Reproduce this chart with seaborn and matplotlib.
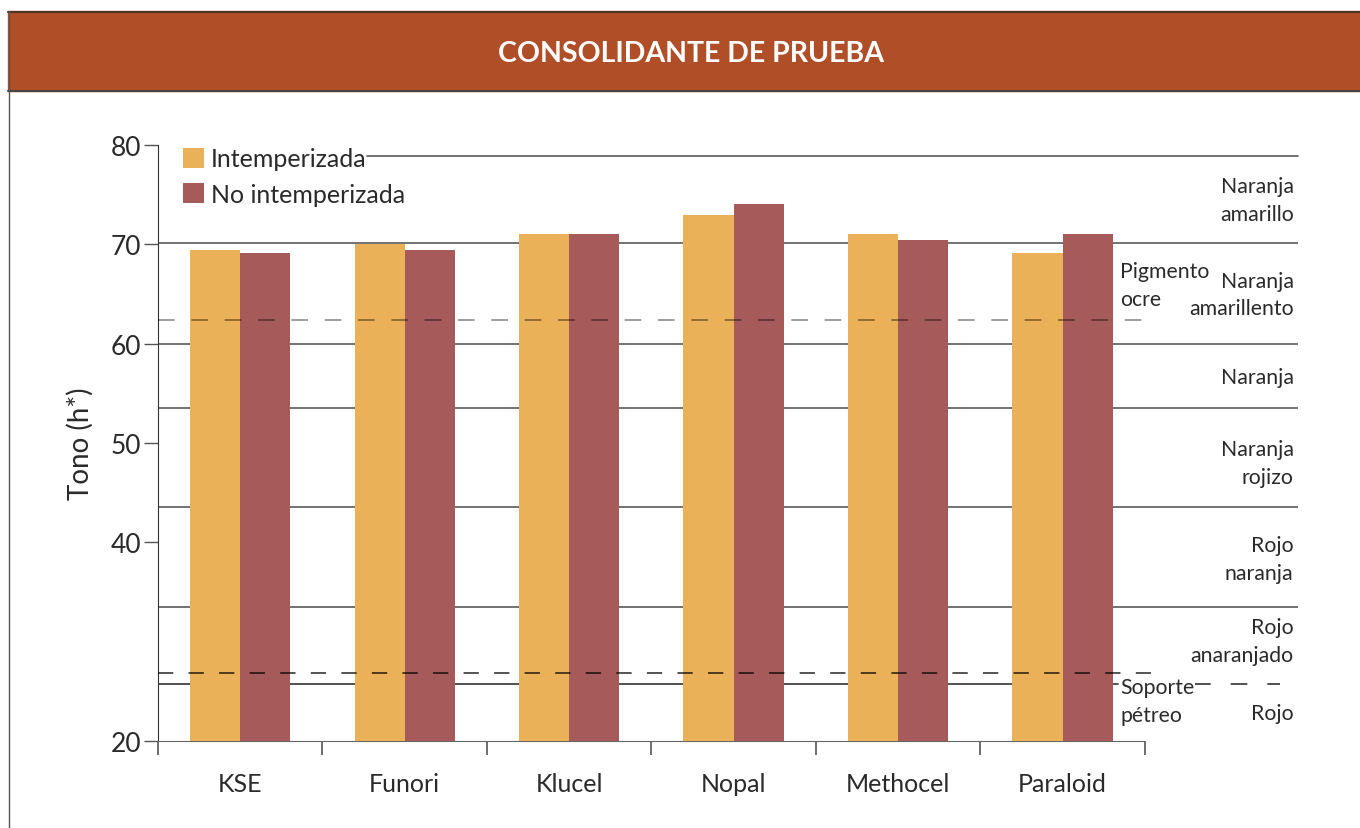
import pandas as pd
import matplotlib.pyplot as plt
import seaborn as sns
from matplotlib.patches import Rectangle

# Chart data
consolidantes = ['KSE', 'Funori', 'Klucel', 'Nopal', 'Methocel', 'Paraloid']
intemperizada = [69.4, 70.0, 71.0, 73.0, 71.0, 69.1]
no_intemperizada = [69.1, 69.4, 71.0, 74.1, 70.4, 71.0]
series_names = ['Intemperizada', 'No intemperizada']

# Colour band limits (solid lines) and reference levels (dashed)
band_limits = [70.1, 60.0, 53.5, 43.6, 33.5, 25.7]
band_top = 78.9
pigmento_ocre = 62.4
soporte_petreo = 26.8
band_labels = ['Naranja\namarillo', 'Naranja', 'amarillento', 'Naranja',
               'Naranja\nrojizo', 'Rojo\nnaranja', 'Rojo\nanaranjado', 'Rojo']
band_label_y = [74.5, 66.3, 63.6, 56.6, 48.0, 38.3, 30.1, 22.8]

df = pd.DataFrame({
    'consolidante': consolidantes * 2,
    'tono': intemperizada + no_intemperizada,
    'estado': [series_names[0]] * 6 + [series_names[1]] * 6,
})

sns.set_style('white')
plt.rcParams['font.family'] = ['Lato', 'DejaVu Sans']

fig = plt.figure(figsize=(13.6, 8.29), dpi=100)

# Title banner
banner_ax = fig.add_axes([0, 0, 1, 1], zorder=-1)
banner_ax.set_xlim(0, 1360)
banner_ax.set_ylim(829, 0)
banner_ax.axis('off')
banner_ax.add_patch(Rectangle((8, 12), 1360, 80, color='#B04E27'))
banner_ax.plot([8, 1360], [12.5, 12.5], color='#4a3426', lw=1.5)
banner_ax.plot([8, 1360], [91.5, 91.5], color='#4a4440', lw=1.5)
banner_ax.plot([8.5, 8.5], [12, 829], color='#555555', lw=1)
banner_ax.text(691, 54, 'CONSOLIDANTE DE PRUEBA', color='white', fontsize=20.5,
               fontweight='bold', ha='center', va='center')

ax = fig.add_axes([0.1162, 0.1049, 0.838, 0.719])
sns.barplot(data=df, x='consolidante', y='tono', hue='estado',
            palette=['#EAB158', '#A65A59'], saturation=1, width=0.61,
            gap=0, linewidth=0, ax=ax, zorder=3)

x_end = 6.43
ax.set_xlim(-0.5, x_end)
ax.set_ylim(20, 80)

# Band lines (solid ones behind the bars)
line_color = '#5a5a5a'
ax.plot([0.77, x_end], [band_top, band_top], color=line_color, lw=1.2,
        clip_on=False, zorder=1)
for y in band_limits[:-1]:
    ax.plot([-0.5, x_end], [y, y], color=line_color, lw=1.2, zorder=1)
ax.plot([-0.5, 5.34], [band_limits[-1]] * 2, color='#333333', lw=1.2, zorder=1)
ax.plot([5.80, 6.32], [band_limits[-1]] * 2, color='#333333', lw=1.2,
        dashes=(10, 12), zorder=1)

# Dashed reference levels drawn over the bars
ax.plot([-0.5, 5.56], [pigmento_ocre] * 2, color='black', alpha=0.45, lw=1.2,
        dashes=(10, 10), zorder=4)
ax.plot([-0.5, 5.56], [soporte_petreo] * 2, color='black', alpha=0.85, lw=1.1,
        dashes=(10, 10), zorder=4)

# Band labels
for lab, y in zip(band_labels, band_label_y):
    ax.text(6.405, y, lab, ha='right', va='center', fontsize=15.3,
            color='#2a2a2a', linespacing=1.5)
ax.text(5.35, 67.3, 'Pigmento', ha='left', va='center', fontsize=15.3,
        color='#2a2a2a')
ax.text(5.35, 64.5, 'ocre', ha='left', va='center', fontsize=15.3,
        color='#2a2a2a')
ax.text(5.35, 24.0, 'Soporte\npétreo', ha='left', va='center', fontsize=15.3,
        color='#2a2a2a', linespacing=1.5, zorder=5,
        bbox=dict(facecolor='white', edgecolor='none', pad=0.5))

# Axes styling
for side in ['top', 'right']:
    ax.spines[side].set_visible(False)
ax.spines['left'].set_color('#333333')
ax.spines['bottom'].set_color('#666666')
ax.spines['bottom'].set_bounds(-0.5, 5.5)
ax.set_yticks([20, 40, 50, 60, 70, 80])
ax.tick_params(axis='y', direction='out', length=10, width=1, color='#555555',
               labelsize=19, left=True, pad=2, labelcolor='#2a2a2a')
ax.set_xticks(range(len(consolidantes)))
ax.set_xticklabels(consolidantes)
ax.set_xticks([i - 0.5 for i in range(len(consolidantes) + 1)], minor=True)
ax.tick_params(axis='x', which='major', length=0, pad=22, labelsize=18,
               labelcolor='#2a2a2a')
ax.tick_params(axis='x', which='minor', length=10, width=1.2, color='#555555',
               bottom=True, direction='out')
ax.set_xlabel('')
ax.set_ylabel('Tono (h*)', fontsize=20, color='#2a2a2a', labelpad=12)
ax.grid(False)

# Legend
handles, labels = ax.get_legend_handles_labels()
ax.legend(handles, labels, loc='upper left', bbox_to_anchor=(0.011, 1.017),
          frameon=False, fontsize=18, handlelength=0.85, handleheight=0.85,
          handletextpad=0.25, labelspacing=0.5, borderpad=0,
          labelcolor='#2a2a2a')

plt.savefig('out.png', dpi=100)
